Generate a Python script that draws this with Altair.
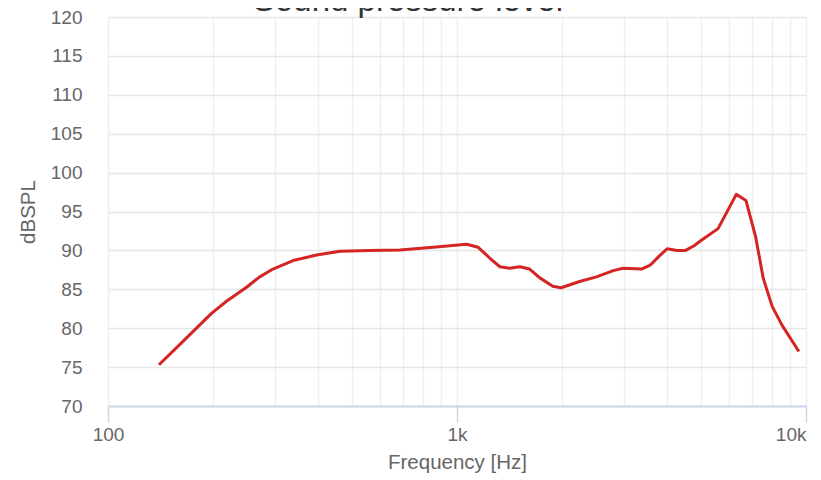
import altair as alt
import pandas as pd

freq = [140, 164, 198, 219, 250, 272, 297, 339, 396, 462, 560, 686, 855, 1065, 1150,
        1256, 1327, 1416, 1512, 1615, 1723, 1881, 1988, 2246, 2509, 2802, 2992,
        3378, 3577, 3782, 3999, 4272, 4519, 4779, 5049, 5598, 6314, 6730, 7168,
        7544, 8000, 8534, 9544]
spl = [75.3, 78.3, 81.9, 83.5, 85.3, 86.6, 87.6, 88.7, 89.4, 89.9, 90.0, 90.05, 90.4, 90.8, 90.4,
       88.8, 87.9, 87.7, 87.9, 87.6, 86.5, 85.4, 85.2, 86.0, 86.6, 87.4, 87.7,
       87.6, 88.1, 89.2, 90.2, 90.0, 90.0, 90.6, 91.4, 92.8, 97.2, 96.4, 91.8,
       86.4, 82.8, 80.4, 77.0]

x_grid = [100, 200, 300, 400, 500, 600, 700, 800, 900,
          1000, 2000, 3000, 4000, 5000, 6000, 7000, 8000, 9000, 10000]
y_ticks = [70, 75, 80, 85, 90, 95, 100, 105, 110, 115, 120]

df = pd.DataFrame({"f": freq, "spl": spl})

FONT = "Liberation Sans"
major = "datum.value == 100 || datum.value == 1000 || datum.value == 10000"

chart = alt.Chart(df).mark_line(
    color="#d42424", strokeWidth=3, interpolate="linear", strokeJoin="round"
).encode(
    x=alt.X("f:Q", scale=alt.Scale(type="log", domain=[100, 10000], nice=False),
            axis=alt.Axis(
                values=x_grid,
                title="Frequency [Hz]",
                labelExpr="datum.value == 100 ? '100' : datum.value == 1000 ? '1k' : datum.value == 10000 ? '10k' : ''",
                labelAlign={"condition": {"test": "datum.value >= 10000", "value": "right"}, "value": "center"},
                labelFontSize=19, labelColor="#666666", labelFont=FONT,
                labelPadding=3, labelOverlap=False, labelBound=False, labelFlush=False,
                tickSize=16, tickWidth=1.5,
                tickColor={"condition": {"test": major, "value": "#ccd6eb"}, "value": "transparent"},
                domainColor="#ccd6eb", domainWidth=1.8,
                gridColor="#efefef", gridWidth=1.5,
                titleFontSize=20.5, titleFont=FONT, titleColor="#666666",
                titleFontWeight="normal", titlePadding=8,
            )),
    y=alt.Y("spl:Q", scale=alt.Scale(domain=[70, 120], nice=False, zero=False),
            axis=alt.Axis(
                values=y_ticks,
                title="dBSPL",
                domain=False, ticks=False, tickSize=0,
                labelFontSize=19, labelColor="#666666", labelFont=FONT,
                labelPadding=26,
                gridColor="#e6e6e6", gridWidth=1.5,
                titleFontSize=20.5, titleFont=FONT, titleColor="#666666",
                titleFontWeight="normal", titlePadding=12,
            )),
).properties(
    width=698,
    height=389,
    autosize=alt.AutoSizeParams(type="none"),
    padding={"left": 100, "top": 9, "right": 7, "bottom": 72},
    title=alt.TitleParams(
        "Sound pressure level", fontSize=33, font=FONT, color="#333333",
        fontWeight="normal", anchor="middle", frame="group", dx=-49,
        baseline="alphabetic", offset=0, dy=36,
    ),
).configure_view(stroke=None)

chart.save("out.html", embed_options={"renderer": "svg", "actions": False})
